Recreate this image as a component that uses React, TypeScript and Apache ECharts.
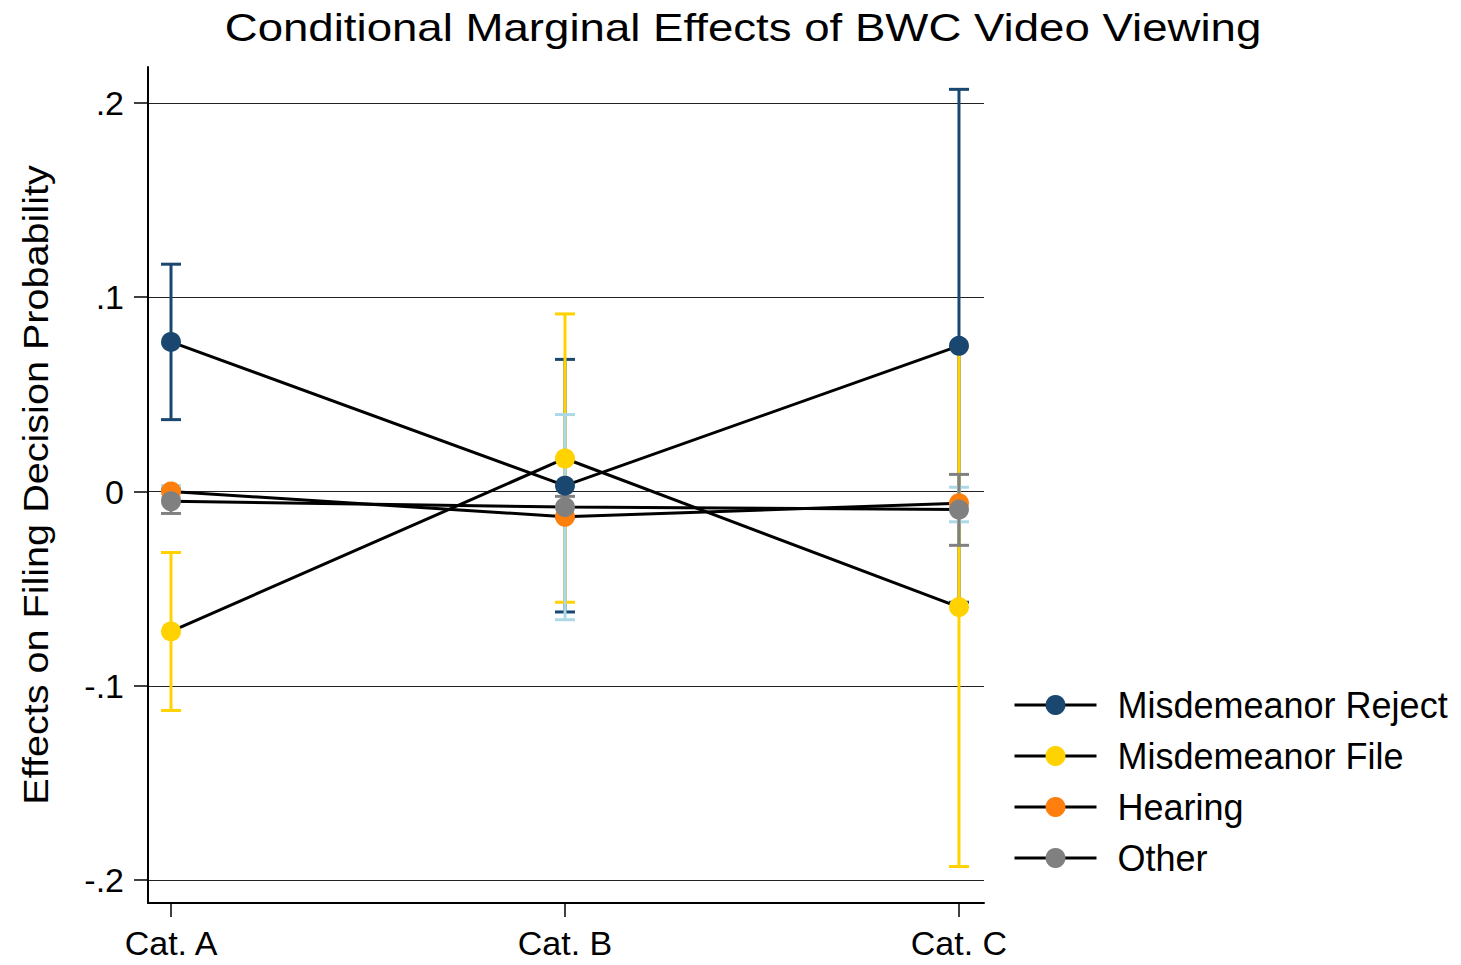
import React, { useEffect, useRef } from "react";
import * as echarts from "echarts";

// Categories and their positions on the horizontal value axis
const categories = ["Cat. A", "Cat. B", "Cat. C"];
const xPositions = [1, 2, 3];

// Point estimates and confidence bounds for each outcome
const rejectEst = [0.077, 0.003, 0.075];
const rejectLo = [0.037, -0.062, -0.057];
const rejectHi = [0.117, 0.068, 0.207];

const fileEst = [-0.072, 0.017, -0.0595];
const fileLo = [-0.1127, -0.057, -0.193];
const fileHi = [-0.0314, 0.0914, 0.074];

const hearingEst = [0.0, -0.013, -0.006];
const hearingLo = [-0.003, -0.066, -0.0156];
const hearingHi = [0.003, 0.0396, 0.0022];

const otherEst = [-0.005, -0.008, -0.0093];
const otherLo = [-0.0113, -0.0135, -0.0277];
const otherHi = [0.0013, -0.0025, 0.0088];

const yTicks = [-0.2, -0.1, 0, 0.1, 0.2];

const seriesNames = ["Misdemeanor Reject", "Misdemeanor File", "Hearing", "Other"];

const FONT = "'Liberation Sans', Arial, Helvetica, sans-serif";

const fmtY = (v: number) => {
  if (Math.abs(v) < 1e-9) return "0";
  const s = v.toFixed(1);
  return s.replace("0.", ".");
};

function errorBarSeries(name: string, lo: number[], hi: number[], color: string) {
  return {
    type: "custom",
    name,
    silent: true,
    z: 2,
    data: xPositions.map((x, i) => [x, lo[i], hi[i]]),
    renderItem: (_params: any, api: any) => {
      const x = api.value(0);
      const pLo = api.coord([x, api.value(1)]);
      const pHi = api.coord([x, api.value(2)]);
      const hw = 10;
      const style = { stroke: color, lineWidth: 3, fill: "none" };
      return {
        type: "group",
        children: [
          { type: "line", shape: { x1: pLo[0], y1: pLo[1], x2: pHi[0], y2: pHi[1] }, style },
          { type: "line", shape: { x1: pHi[0] - hw, y1: pHi[1], x2: pHi[0] + hw, y2: pHi[1] }, style },
          { type: "line", shape: { x1: pLo[0] - hw, y1: pLo[1], x2: pLo[0] + hw, y2: pLo[1] }, style },
        ],
      };
    },
  };
}

function pointSeries(name: string, est: number[], color: string) {
  return {
    type: "line",
    name,
    z: 5,
    data: xPositions.map((x, i) => [x, est[i]]),
    symbol: "circle",
    symbolSize: 20,
    showSymbol: true,
    lineStyle: { color: "#000", width: 3 },
    itemStyle: { color, borderWidth: 0 },
  };
}

export default function App() {
  const ref = useRef<HTMLDivElement>(null);

  useEffect(() => {
    if (!ref.current) return;
    const chart = echarts.init(ref.current, undefined, { renderer: "svg" });
    const navy = "#1a476f";
    const gold = "#ffd200";
    const orange = "#ff7f0e";
    const gray = "#808080";
    const ltblue = "#add8e6";

    chart.setOption({
      animation: false,
      backgroundColor: "#fff",
      textStyle: { fontFamily: FONT },
      grid: { left: 148, top: 67, right: 477, bottom: 62, containLabel: false },
      xAxis: {
        type: "value",
        min: 0.9416,
        max: 3.0635,
        axisLine: { show: true, onZero: false, lineStyle: { color: "#000", width: 2 } },
        axisTick: {
          show: true,
          customValues: xPositions,
          length: 14,
          lineStyle: { color: "#000", width: 1.5 },
        },
        axisLabel: {
          customValues: xPositions,
          formatter: (v: number) => categories[Math.round(v) - 1] ?? "",
          fontSize: 34,
          color: "#000",
          fontFamily: FONT,
          margin: 23,
        },
        splitLine: { show: false },
      },
      yAxis: {
        type: "value",
        min: -0.2118,
        max: 0.2185,
        axisLine: { show: true, onZero: false, lineStyle: { color: "#000", width: 2 } },
        axisTick: {
          show: true,
          customValues: yTicks,
          length: 14,
          lineStyle: { color: "#000", width: 1.5 },
        },
        axisLabel: {
          customValues: yTicks,
          formatter: fmtY,
          fontSize: 34,
          color: "#000",
          fontFamily: FONT,
          margin: 24,
        },
        splitLine: {
          show: true,
          lineStyle: { color: "#222", width: 1 },
        },
      },
      legend: {
        data: seriesNames,
        orient: "vertical",
        left: 1013,
        top: 687,
        padding: 0,
        itemWidth: 82,
        itemHeight: 25,
        itemGap: 15,
        selectedMode: false,
        lineStyle: { color: "#000", width: 3 },
        textStyle: { fontSize: 36, color: "#000", fontFamily: FONT, padding: [0, 0, 0, 16] },
      },
      graphic: [
        {
          type: "text",
          x: 743,
          y: 28,
          scaleX: 1.2,
          style: {
            text: "Conditional Marginal Effects of BWC Video Viewing",
            font: `38px ${FONT}`,
            fill: "#000",
            textAlign: "center",
            textVerticalAlign: "middle",
          },
        },
        {
          type: "text",
          x: 36,
          y: 485,
          rotation: Math.PI / 2,
          scaleX: 1.1,
          style: {
            text: "Effects on Filing Decision Probability",
            font: `36px ${FONT}`,
            fill: "#000",
            textAlign: "center",
            textVerticalAlign: "middle",
          },
        },
      ],
      series: [
        errorBarSeries("ci-reject", rejectLo, rejectHi, navy),
        errorBarSeries("ci-file", fileLo, fileHi, gold),
        errorBarSeries("ci-hearing", hearingLo, hearingHi, ltblue),
        errorBarSeries("ci-other", otherLo, otherHi, gray),
        pointSeries(seriesNames[0], rejectEst, navy),
        pointSeries(seriesNames[1], fileEst, gold),
        pointSeries(seriesNames[2], hearingEst, orange),
        pointSeries(seriesNames[3], otherEst, gray),
      ],
    });

    return () => chart.dispose();
  }, []);

  return (
    <div
      ref={ref}
      style={{ position: "fixed", left: 0, top: 0, width: 1461, height: 965, background: "#fff" }}
    />
  );
}
